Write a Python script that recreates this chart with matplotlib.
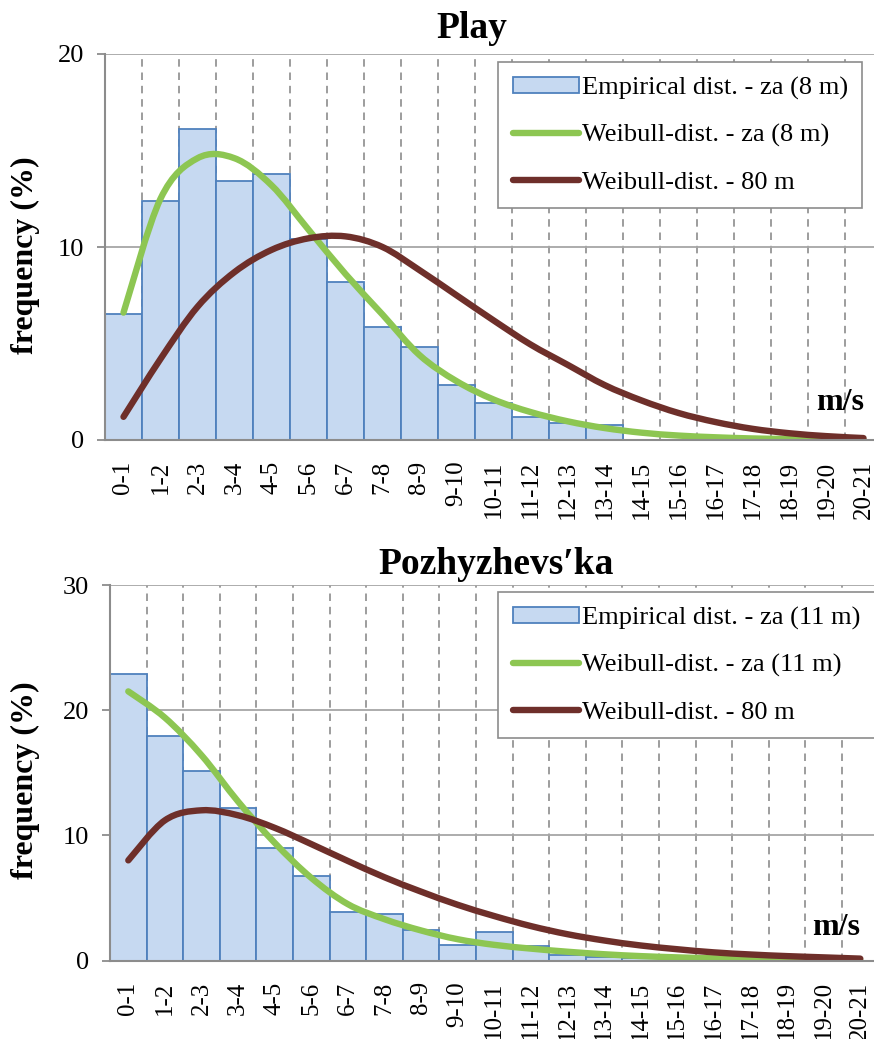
import matplotlib
matplotlib.use('Agg')
import matplotlib.pyplot as plt
from matplotlib.path import Path
from matplotlib.patches import PathPatch, Patch
from matplotlib.lines import Line2D
import numpy as np

plt.rcParams['font.family'] = ['Liberation Serif', 'DejaVu Serif']

categories = ['0-1', '1-2', '2-3', '3-4', '4-5', '5-6', '6-7', '7-8', '8-9', '9-10',
              '10-11', '11-12', '12-13', '13-14', '14-15', '15-16', '16-17', '17-18',
              '18-19', '19-20', '20-21']

# Play
play_empirical = [6.55, 12.4, 16.1, 13.4, 13.8, 10.4, 8.2, 5.85, 4.8, 2.85, 1.9,
                  1.2, 0.9, 0.8, 0, 0, 0, 0, 0, 0, 0]
play_weibull_za = [6.6, 12.5, 14.6, 14.6, 13.2, 10.9, 8.6, 6.5, 4.4, 3.05, 2.1,
                   1.45, 0.97, 0.62, 0.38, 0.23, 0.14, 0.08, 0.05, 0.03, 0.02]
play_weibull_80 = [1.2, 4.2, 6.9, 8.7, 9.85, 10.45, 10.55, 10.0, 8.8, 7.5, 6.2,
                   4.95, 3.9, 2.85, 2.05, 1.4, 0.93, 0.58, 0.35, 0.2, 0.1]

# Pozhyzhevs'ka
poz_empirical = [22.9, 17.9, 15.15, 12.2, 9.0, 6.75, 3.87, 3.7, 2.45, 1.2, 2.25,
                 1.12, 0.4, 0.3, 0.2, 0.1, 0.1, 0, 0, 0, 0]
poz_weibull_za = [21.5, 19.4, 16.4, 12.7, 9.4, 6.6, 4.5, 3.3, 2.4, 1.7, 1.25,
                  0.95, 0.7, 0.5, 0.35, 0.25, 0.17, 0.11, 0.07, 0.05, 0.03]
poz_weibull_80 = [8.0, 11.2, 12.0, 11.6, 10.6, 9.3, 7.95, 6.65, 5.5, 4.45, 3.55,
                  2.75, 2.1, 1.6, 1.2, 0.9, 0.65, 0.48, 0.35, 0.25, 0.15]

BAR_FILL = '#C6D9F1'
BAR_EDGE = '#4F81BD'
GREEN = '#8DC652'
BROWN = '#6E2F2A'
GRID = '#A6A6A6'
AXIS = '#8C8C8C'

W, H = 874, 1039


def smooth_path(xs, ys):
    """Excel-like smoothed line: cubic Bezier segments through the data points."""
    pts = np.column_stack([xs, ys]).astype(float)
    n = len(pts)
    verts = [pts[0]]
    codes = [Path.MOVETO]
    for i in range(n - 1):
        p0 = pts[i - 1] if i > 0 else pts[i]
        p1 = pts[i]
        p2 = pts[i + 1]
        p3 = pts[i + 2] if i + 2 < n else pts[i + 1]
        c1 = p1 + (p2 - p0) / 6.0
        c2 = p2 - (p3 - p1) / 6.0
        verts += [c1, c2, p2]
        codes += [Path.CURVE4] * 3
    return Path(verts, codes)


def panel(ax, emp, wza, w80, ymax, ystep, labels, mslabel_pos):
    x = np.arange(len(labels))
    ax.bar(x, emp, width=1.0, color=BAR_FILL, edgecolor=BAR_EDGE, linewidth=1.3, zorder=2)
    for k in range(1, len(labels) + 1):
        ax.axvline(k - 0.5, color=AXIS, lw=1.2, ls=(0, (4.5, 3.5)), zorder=1)
    for v in np.arange(ystep, ymax + 0.1, ystep):
        ax.axhline(v, color=GRID, lw=1.3, zorder=1)
    ax.add_patch(PathPatch(smooth_path(x, wza), facecolor='none', edgecolor=GREEN,
                           lw=4.6, capstyle='round', joinstyle='round', zorder=3))
    ax.add_patch(PathPatch(smooth_path(x, w80), facecolor='none', edgecolor=BROWN,
                           lw=4.6, capstyle='round', joinstyle='round', zorder=4))
    ax.set_xlim(-0.5, len(labels) - 0.5)
    ax.set_ylim(0, ymax)
    ax.set_yticks(np.arange(0, ymax + 0.1, ystep))
    ax.set_xticks(x)
    ax.set_xticklabels(labels, rotation=90)
    for s in ['top', 'right']:
        ax.spines[s].set_visible(False)
    for s in ['left', 'bottom']:
        ax.spines[s].set_color(AXIS)
        ax.spines[s].set_linewidth(1.5)
        ax.spines[s].set_zorder(5)
    ax.tick_params(axis='y', length=6, width=1.3, color=AXIS, labelsize=19, pad=9)
    ax.tick_params(axis='x', length=0, pad=15, labelsize=18)
    ax.text(mslabel_pos[0], mslabel_pos[1], 'm/s', transform=ax.transAxes,
            fontsize=23, fontweight='bold', ha='center', va='center', zorder=6)


def add_legend(ax, labels, anchor):
    handles = [Patch(facecolor=BAR_FILL, edgecolor=BAR_EDGE, linewidth=1.3),
               Line2D([], [], color=GREEN, lw=4.6, solid_capstyle='round'),
               Line2D([], [], color=BROWN, lw=4.6, solid_capstyle='round')]
    leg = ax.legend(handles, labels, loc='upper left', bbox_to_anchor=anchor,
                    fontsize=19, frameon=True, fancybox=False, framealpha=1,
                    edgecolor=AXIS, borderpad=0.55, labelspacing=0.92,
                    handlelength=2.5, handleheight=0.55, handletextpad=0.12,
                    borderaxespad=0)
    leg.get_frame().set_linewidth(1.2)
    leg.set_zorder(7)


fig = plt.figure(figsize=(W / 100, H / 100), dpi=100)

ax1 = fig.add_axes([105 / W, 1 - 440 / H, 777 / W, 386 / H])
panel(ax1, play_empirical, play_weibull_za, play_weibull_80, 20, 10, categories, (0.946, 0.096))
add_legend(ax1, ['Empirical dist. - za (8 m)', 'Weibull-dist. - za (8 m)', 'Weibull-dist. - 80 m'],
           (0.506, 0.979))

ax2 = fig.add_axes([110 / W, 1 - 960.5 / H, 768.6 / W, 375.5 / H])
panel(ax2, poz_empirical, poz_weibull_za, poz_weibull_80, 30, 10, categories, (0.945, 0.089))
add_legend(ax2, ['Empirical dist. - za (11 m)', 'Weibull-dist. - za (11 m)', 'Weibull-dist. - 80 m'],
           (0.505, 0.981))

fig.text(472 / W, 1 - 28 / H, 'Play', fontsize=27, fontweight='bold', ha='center', va='center')
fig.text(496 / W, 1 - 565 / H, 'Pozhyzhevs\u2032ka', fontsize=27, fontweight='bold',
         ha='center', va='center')
fig.text(25 / W, 1 - 255 / H, 'frequency (%)', fontsize=23, fontweight='bold', rotation=90,
         ha='center', va='center')
fig.text(25 / W, 1 - 780 / H, 'frequency (%)', fontsize=23, fontweight='bold', rotation=90,
         ha='center', va='center')

fig.savefig('out.png', dpi=100)
